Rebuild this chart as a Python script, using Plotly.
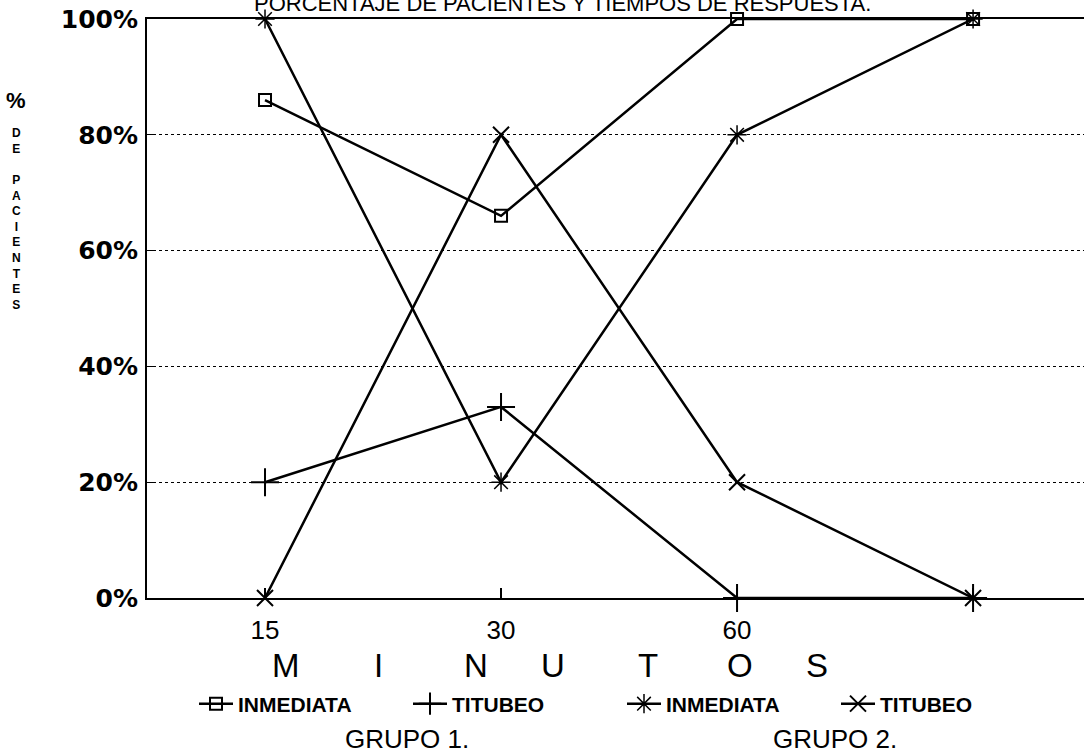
import plotly.graph_objects as go

categories = ["15", "30", "60", " "]
g1_inmediata = [86, 66, 100, 100]
g1_titubeo = [20, 33, 0, 0]
g2_inmediata = [100, 20, 80, 100]
g2_titubeo = [0, 80, 20, 0]
y_ticks = [0, 20, 40, 60, 80, 100]
y_labels = ["0%", "20%", "40%", "60%", "80%", "100%"]

W, H = 1084, 753
L, R, T, B = 147, 0, 19, 155
PH = H - T - B
PW = W - L - R

def py(p):
    return (H - B - p) / PH

def px(p):
    return (p - L) / PW

FONT = "Liberation Sans"

fig = go.Figure()
series = [
    ("INMEDIATA", g1_inmediata, "square-open", 12, 2),
    ("TITUBEO", g1_titubeo, "cross-thin-open", 20, 2),
    ("INMEDIATA", g2_inmediata, "asterisk-open", 16, 1.5),
    ("TITUBEO", g2_titubeo, "x-thin-open", 16, 2),
]
for name, vals, sym, size, lw in series:
    fig.add_trace(go.Scatter(
        x=categories, y=vals, name=name, mode="lines+markers",
        line=dict(color="black", width=2.5),
        marker=dict(symbol=sym, size=size, color="black",
                    line=dict(color="black", width=lw)),
        cliponaxis=False,
    ))

fig.update_layout(
    width=W, height=H,
    margin=dict(l=L, r=R, t=T, b=B, autoexpand=False),
    plot_bgcolor="white", paper_bgcolor="white",
    font=dict(family=FONT, color="black"),
    showlegend=True,
    legend=dict(
        orientation="h", x=px(194), xanchor="left",
        y=py(704), yanchor="middle",
        font=dict(family=FONT, size=21, color="black", weight="bold"),
        entrywidth=165, entrywidthmode="pixels",
        itemwidth=34, bgcolor="rgba(0,0,0,0)",
    ),
    xaxis=dict(
        type="category", categoryorder="array", categoryarray=categories,
        range=[-0.5, 3.47], automargin=False,
        showline=True, linecolor="black", linewidth=2, mirror=True,
        ticks="inside", ticklen=10, tickwidth=1.5, tickcolor="black",
        showgrid=False, zeroline=False,
        tickfont=dict(family=FONT, size=26, color="black"),
        ticklabelstandoff=8,
    ),
    yaxis=dict(
        range=[0, 100], tickvals=y_ticks, ticktext=y_labels, automargin=False,
        showline=True, linecolor="black", linewidth=2, mirror=False,
        ticks="inside", ticklen=8, tickcolor="black",
        showgrid=True, gridcolor="black", gridwidth=1, griddash="dot",
        zeroline=False,
        tickfont=dict(family="DejaVu Sans", size=25, color="black", weight="bold"),
        ticklabelstandoff=2,
    ),
)

ann = []
# title, cut off at the very top of the page
ann.append(dict(text="PORCENTAJE DE PACIENTES Y TIEMPOS DE RESPUESTA.",
                x=px(562), y=1, yanchor="bottom", yshift=1,
                font=dict(family=FONT, size=22, color="black")))
# vertical y title
ann.append(dict(text="%", x=px(16), y=py(100),
                font=dict(family=FONT, size=22, color="black", weight="bold")))
ann.append(dict(text="D<br>E", x=px(16), y=py(141),
                font=dict(family=FONT, size=12, color="black", weight="bold")))
ann.append(dict(text="P<br>A<br>C<br>I<br>E<br>N<br>T<br>E<br>S", x=px(16), y=py(243),
                font=dict(family=FONT, size=12, color="black", weight="bold")))
# spaced x title letters
letters = ["M", "I", "N", "U", "T", "O", "S"]
letter_x = [286, 378, 476, 553, 648, 740, 817]
for lt, lx in zip(letters, letter_x):
    ann.append(dict(text=lt, x=px(lx), y=py(665),
                    font=dict(family=FONT, size=33, color="black")))
ann.append(dict(text="GRUPO 1.", x=px(407), y=py(739),
                font=dict(family=FONT, size=26, color="black")))
ann.append(dict(text="GRUPO 2.", x=px(835), y=py(739),
                font=dict(family=FONT, size=26, color="black")))
for a in ann:
    a.setdefault("yanchor", "middle")
    a.update(xref="paper", yref="paper", xanchor="center", showarrow=False)
fig.update_layout(annotations=ann)

fig.write_html("out.html", config={"displayModeBar": False},
               post_script="document.body.style.margin='0';document.body.style.overflow='hidden';")
